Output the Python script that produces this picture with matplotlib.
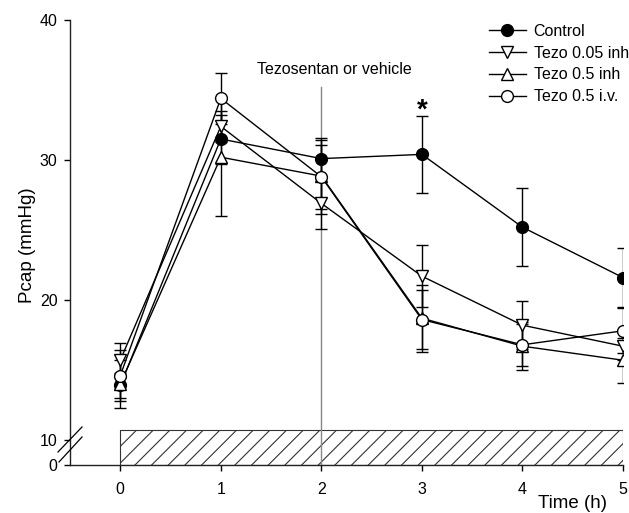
import numpy as np
import matplotlib
matplotlib.use("Agg")
import matplotlib.pyplot as plt
from matplotlib.scale import FuncScale
from matplotlib.lines import Line2D

plt.rcParams['font.family'] = ['Liberation Sans', 'DejaVu Sans']
plt.rcParams['hatch.linewidth'] = 0.8

time = [0, 1, 2, 3, 4, 5]

control = [13.9, 31.5, 30.1, 30.4, 25.2, 21.6]
control_sem = [0.9, 1.75, 1.3, 2.75, 2.8, 2.1]

tezo005_inh = [15.7, 32.4, 26.9, 21.7, 18.2, 16.7]
tezo005_inh_sem = [1.2, 1.1, 1.85, 2.2, 1.7, 1.0]

tezo05_inh = [14.0, 30.2, 28.85, 18.7, 16.7, 15.7]
tezo05_inh_sem = [1.7, 4.2, 2.7, 2.4, 1.7, 1.6]

tezo05_iv = [14.6, 34.4, 28.8, 18.6, 16.8, 17.8]
tezo05_iv_sem = [1.8, 1.8, 2.3, 2.1, 1.5, 1.6]

# compress the 0-10 stretch of the y axis (broken axis)
k = 25.0 / 140.0


def fwd(y):
    y = np.asarray(y, dtype=float)
    return np.where(y >= 10, y, 10 - (10 - y) * k)


def inv(v):
    v = np.asarray(v, dtype=float)
    return np.where(v >= 10, v, 10 - (10 - v) / k)


fig = plt.figure(figsize=(6.29, 5.13), dpi=100)
ax = fig.add_axes([70 / 629, 1 - 465 / 513, (623 - 70) / 629, (465 - 20) / 513])
ax.set_yscale(FuncScale(ax, (fwd, inv)))

# treatment period bar
ax.fill_between([0, 5], 0, 10.7, facecolor='white', edgecolor='#333333',
                hatch='//', linewidth=0.8, zorder=1)

# dosing time marker
ax.plot([2, 2], [0, 35.2], color='#888888', lw=1, zorder=2)
ax.text(2.13, 36.45, 'Tezosentan or vehicle', ha='center', va='center',
        fontsize=11.5)

series = [
    (control, control_sem, 'o', 'black', 'Control'),
    (tezo005_inh, tezo005_inh_sem, 'v', 'white', 'Tezo 0.05 inh'),
    (tezo05_inh, tezo05_inh_sem, '^', 'white', 'Tezo 0.5 inh'),
    (tezo05_iv, tezo05_iv_sem, 'o', 'white', 'Tezo 0.5 i.v.'),
]
handles = []
for vals, sem, mk, face, lab in series:
    ax.errorbar(time, vals, yerr=sem, color='black', lw=1, elinewidth=1,
                capsize=4.3, capthick=1, marker=mk, ms=8.5, mfc=face,
                mec='black', mew=1, zorder=3)
    handles.append(Line2D([], [], color='black', lw=1, marker=mk, ms=8.5,
                          mfc=face, mec='black', mew=1, label=lab))

ax.text(3, 33.55, '*', ha='center', va='center', fontsize=20,
        fontweight='bold', zorder=4)

ax.set_xlim(-0.5, 5)
ax.set_ylim(0, 40)
ax.set_xticks(time)
ax.set_yticks([0, 10, 20, 30, 40])
ax.set_yticklabels(['0', '10', '20', '30', '40'])
ax.minorticks_off()
ax.tick_params(direction='out', length=4, width=1, labelsize=11.5, pad=5)
ax.tick_params(axis='x', pad=8)
for s in ['top', 'right']:
    ax.spines[s].set_visible(False)
for s in ['left', 'bottom']:
    ax.spines[s].set_linewidth(1)
    ax.spines[s].set_color('#222222')

# axis break marks
fig.add_artist(Line2D([58 / 629, 82 / 629], [1 - 452 / 513, 1 - 427 / 513],
                      color='black', lw=0.9))
fig.add_artist(Line2D([59 / 629, 82 / 629], [1 - 462 / 513, 1 - 437 / 513],
                      color='black', lw=0.9))

fig.text(28 / 629, 1 - 245 / 513, 'Pcap (mmHg)', rotation=90, ha='center',
         va='center', fontsize=13.5)
fig.text(572 / 629, 1 - 504 / 513, 'Time (h)', ha='center', va='center',
         fontsize=13.5)

fig.legend(handles=handles, loc='upper left', frameon=False, fontsize=11.5,
           bbox_to_anchor=(489 / 629, 1 - 24 / 513), handlelength=2.3,
           handletextpad=0.5, labelspacing=0.42, borderaxespad=0,
           borderpad=0)

fig.savefig('out.png', dpi=100)
